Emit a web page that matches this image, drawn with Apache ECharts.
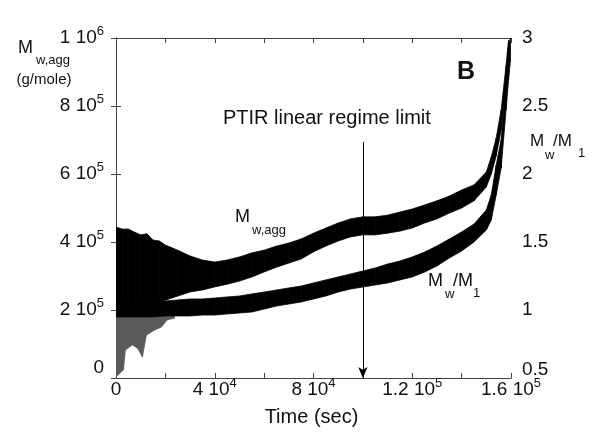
<!DOCTYPE html>
<html>
<head>
<meta charset="utf-8">
<script src="https://cdn.jsdelivr.net/npm/echarts@6/dist/echarts.min.js"></script>
<style>
  html, body { margin: 0; padding: 0; background: #fff; }
  #chart { width: 601px; height: 444px; }
</style>
</head>
<body>
<div id="chart"></div>
<script>
// ---------------- data ----------------
// Time samples (sec) for the M_w,agg band
const aggTime = [0, 2500, 5000, 7500, 10000, 12500, 15000, 17500, 20000, 25000, 30000, 35000,
  40000, 45000, 50000, 55000, 60000, 65000, 70000, 75000, 80000, 85000, 90000, 95000, 100000,
  105000, 110000, 115000, 120000, 125000, 130000, 135000, 140000, 145000, 150000, 152000,
  154000, 156000, 158000, 159000];
// lower / upper edge of the M_w,agg scatter band (g/mole)
const aggLow = [194000, 194000, 194000, 194000, 196000, 206000, 215000, 224000, 229000, 241000,
  253000, 259000, 268000, 276000, 285000, 297000, 312000, 326000, 338000, 350000, 371000,
  388000, 403000, 415000, 421000, 421000, 426000, 432000, 441000, 456000, 468000, 485000,
  500000, 521000, 562000, 600000, 653000, 729000, 862000, 935000];
const aggHigh = [444000, 438000, 438000, 429000, 421000, 424000, 406000, 403000, 391000, 376000,
  359000, 347000, 341000, 347000, 356000, 368000, 376000, 388000, 397000, 409000, 426000,
  441000, 456000, 468000, 474000, 474000, 479000, 488000, 497000, 509000, 521000, 535000,
  553000, 568000, 606000, 650000, 706000, 788000, 920000, 994000];

// Time samples (sec) for the M_w/M_1 band
const ratioTime = [0, 5000, 10000, 15000, 20000, 25000, 30000, 35000, 40000, 45000, 50000,
  55000, 60000, 65000, 70000, 75000, 80000, 85000, 90000, 95000, 100000, 105000, 110000,
  115000, 120000, 125000, 130000, 135000, 140000, 145000, 150000, 152000, 154000, 156000,
  158000, 159000, 159800];
const ratioLow = [0.949, 0.949, 0.949, 0.949, 0.956, 0.956, 0.956, 0.963, 0.963, 0.971, 0.978,
  0.985, 1.007, 1.029, 1.044, 1.059, 1.081, 1.103, 1.132, 1.154, 1.169, 1.184, 1.199, 1.221,
  1.243, 1.279, 1.324, 1.382, 1.434, 1.500, 1.588, 1.662, 1.846, 2.044, 2.471, 2.691, 2.838];
const ratioHigh = [1.051, 1.059, 1.059, 1.066, 1.066, 1.074, 1.081, 1.081, 1.088, 1.096, 1.103,
  1.118, 1.132, 1.147, 1.162, 1.176, 1.199, 1.221, 1.243, 1.265, 1.287, 1.309, 1.338, 1.360,
  1.390, 1.426, 1.471, 1.522, 1.574, 1.632, 1.735, 1.846, 2.066, 2.250, 2.691, 2.949, 3.0];

// Sparse early-time scatter below the bands (g/mole)
const noiseTime = [0, 3000, 3800, 6600, 8700, 10700, 12300, 15600, 18400, 20800, 23700];
const noiseLow = [3000, 24000, 82000, 97000, 88000, 62000, 126000, 141000, 150000, 171000, 176000];
const noiseHigh = [194000, 194000, 194000, 194000, 194000, 194000, 200000, 206000, 214000, 220000, 224000];

// Annotation: PTIR linear regime limit arrow
const limitTime = 100000;
const limitTop = 694000;
const limitTip = 0;

// Axis ranges / ticks
const xMin = 0, xMax = 160000, xStep = 20000, xLabelStep = 40000;
const yLeftMin = 0, yLeftMax = 1000000, yLeftStep = 200000;
const yRightMin = 0.5, yRightMax = 3, yRightStep = 0.5;

// ---------------- chart ----------------
const FONT = "'Liberation Sans', Arial, sans-serif";
const chart = echarts.init(document.getElementById('chart'), null, { renderer: 'canvas' });

function segs(t, lo, hi) {
  const out = [];
  for (let i = 0; i < t.length - 1; i++) out.push([t[i], lo[i], hi[i], t[i + 1], lo[i + 1], hi[i + 1]]);
  return out;
}
function bandSeries(name, t, lo, hi, yIdx, color, z) {
  return {
    type: 'custom', name: name, yAxisIndex: yIdx, clip: true,
    data: segs(t, lo, hi),
    encode: { x: [0, 3], y: [1, 2, 4, 5] },
    renderItem: function (params, api) {
      const a = api.coord([api.value(0), api.value(1)]);
      const b = api.coord([api.value(3), api.value(4)]);
      const c = api.coord([api.value(3), api.value(5)]);
      const d = api.coord([api.value(0), api.value(2)]);
      return { type: 'polygon', shape: { points: [a, b, c, d] },
        style: { fill: color, stroke: color, lineWidth: 0.8 } };
    },
    silent: true, z: z
  };
}

function sciLabel(v) {
  if (v === 0) return '{z|0}';
  const e = Math.floor(Math.log10(v) + 1e-9);
  const m = Math.round(v / Math.pow(10, e) * 10) / 10;
  return '{n|' + m + ' 10}{s|' + e + '}';
}
const richBase = {
  n: { fontSize: 19, fontFamily: FONT, color: '#111', lineHeight: 20 },
  s: { fontSize: 13, fontFamily: FONT, color: '#111', lineHeight: 14, padding: [0, 0, 14, 0] }
};

const axisLineStyle = { color: '#444', width: 1 };

const option = {
  backgroundColor: '#fff',
  animation: false,
  grid: { left: 116, right: 90, top: 38, bottom: 66, containLabel: false },
  xAxis: [
    {
      type: 'value', position: 'bottom', min: xMin, max: xMax, interval: xStep,
      axisLine: { show: true, lineStyle: axisLineStyle },
      axisTick: { show: true, inside: true, length: 5, lineStyle: axisLineStyle },
      splitLine: { show: false },
      axisLabel: {
        margin: 2,
        formatter: function (v) {
          if (v % xLabelStep !== 0) return '';
          if (v === 0) return '{x0|0}';
          return sciLabel(v);
        },
        rich: Object.assign({}, richBase, {
          x0: { fontSize: 19, fontFamily: FONT, color: '#111', lineHeight: 20, padding: [4, 0, 4, 0] }
        })
      }
    },
    {
      type: 'value', position: 'top', min: xMin, max: xMax, interval: xStep,
      axisLine: { show: true, lineStyle: axisLineStyle },
      axisTick: { show: true, inside: true, length: 5, lineStyle: axisLineStyle },
      axisLabel: { show: false }, splitLine: { show: false }
    }
  ],
  yAxis: [
    {
      type: 'value', position: 'left', min: yLeftMin, max: yLeftMax, interval: yLeftStep,
      axisLine: { show: true, lineStyle: axisLineStyle },
      axisTick: { show: true, inside: true, length: 5, lineStyle: axisLineStyle },
      splitLine: { show: false },
      axisLabel: {
        margin: 12,
        formatter: sciLabel,
        rich: Object.assign({}, richBase, {
          z: { fontSize: 19, fontFamily: FONT, color: '#111', lineHeight: 20, padding: [0, 0, 20, 0] }
        })
      }
    },
    {
      type: 'value', position: 'right', min: yRightMin, max: yRightMax, interval: yRightStep,
      axisLine: { show: true, lineStyle: axisLineStyle },
      axisTick: { show: true, inside: true, length: 5, lineStyle: axisLineStyle },
      splitLine: { show: false },
      axisLabel: {
        margin: 11,
        formatter: function (v) {
          return v === yRightMin ? '{z|' + v + '}' : '{n|' + v + '}';
        },
        rich: {
          n: { fontSize: 19, fontFamily: FONT, color: '#111', lineHeight: 20 },
          z: { fontSize: 19, fontFamily: FONT, color: '#111', lineHeight: 20, padding: [0, 0, 16, 0] }
        }
      }
    }
  ],
  series: [
    bandSeries('noise', noiseTime, noiseLow, noiseHigh, 0, '#5a5a5a', 1),
    bandSeries('M_w/M_1', ratioTime, ratioLow, ratioHigh, 1, '#000', 2),
    bandSeries('M_w,agg', aggTime, aggLow, aggHigh, 0, '#000', 2),
    {
      type: 'line', yAxisIndex: 0, data: [], silent: true,
      markLine: {
        silent: true, animation: false,
        label: { show: false },
        lineStyle: { color: '#000', width: 1, type: 'solid' },
        symbol: ['none', 'arrow'], symbolSize: [7, 11],
        data: [[{ coord: [limitTime, limitTop] }, { coord: [limitTime, limitTip] }]]
      }
    }
  ],
  graphic: [
    // left axis title
    { type: 'text', x: 18, y: 48.5, style: { text: 'M', font: '18px ' + FONT, fill: '#111', textVerticalAlign: 'middle' } },
    { type: 'text', x: 36, y: 60.5, style: { text: 'w,agg', font: '13px ' + FONT, fill: '#111', textVerticalAlign: 'middle' } },
    { type: 'text', x: 44, y: 80, style: { text: '(g/mole)', font: '15px ' + FONT, fill: '#111', textAlign: 'center', textVerticalAlign: 'middle' } },
    // right axis title
    { type: 'text', x: 530, y: 141.5, style: { text: 'M', font: '17px ' + FONT, fill: '#111', textVerticalAlign: 'middle' } },
    { type: 'text', x: 545, y: 155.5, style: { text: 'w', font: '13px ' + FONT, fill: '#111', textVerticalAlign: 'middle' } },
    { type: 'text', x: 553, y: 141.5, style: { text: '/M', font: '17px ' + FONT, fill: '#111', textVerticalAlign: 'middle' } },
    { type: 'text', x: 578, y: 153.5, style: { text: '1', font: '13px ' + FONT, fill: '#111', textVerticalAlign: 'middle' } },
    // in-plot labels
    { type: 'text', x: 235, y: 217.5, style: { text: 'M', font: '18px ' + FONT, fill: '#111', textVerticalAlign: 'middle' } },
    { type: 'text', x: 252, y: 230.5, style: { text: 'w,agg', font: '13px ' + FONT, fill: '#111', textVerticalAlign: 'middle' } },
    { type: 'text', x: 428, y: 281.5, style: { text: 'M', font: '18px ' + FONT, fill: '#111', textVerticalAlign: 'middle' } },
    { type: 'text', x: 445, y: 294, style: { text: 'w', font: '13px ' + FONT, fill: '#111', textVerticalAlign: 'middle' } },
    { type: 'text', x: 453, y: 281.5, style: { text: '/M', font: '18px ' + FONT, fill: '#111', textVerticalAlign: 'middle' } },
    { type: 'text', x: 473, y: 293.5, style: { text: '1', font: '13px ' + FONT, fill: '#111', textVerticalAlign: 'middle' } },
    { type: 'text', x: 223, y: 118, style: { text: 'PTIR linear regime limit', font: '20px ' + FONT, fill: '#111', textVerticalAlign: 'middle' } },
    { type: 'text', x: 457, y: 72.5, style: { text: 'B', font: 'bold 25px ' + FONT, fill: '#111', textVerticalAlign: 'middle' } },
    // x axis title
    { type: 'text', x: 311.5, y: 417.5, style: { text: 'Time (sec)', font: '20px ' + FONT, fill: '#111', textAlign: 'center', textVerticalAlign: 'middle' } }
  ]
};
chart.setOption(option);
</script>
</body>
</html>
